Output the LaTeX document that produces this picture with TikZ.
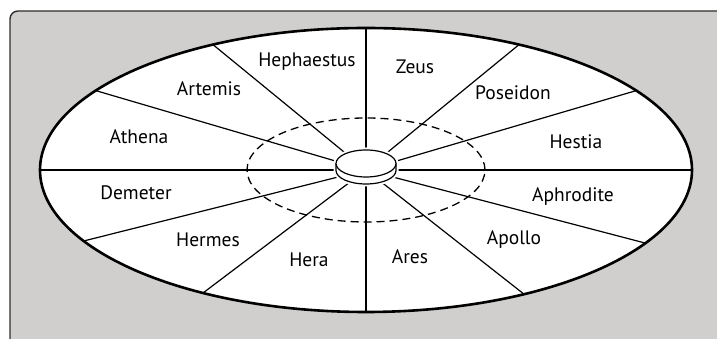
\documentclass[tikz,border=0pt]{standalone}
\usepackage{fontspec}
\setmainfont{PT Sans}
\usetikzlibrary{positioning}
\definecolor{panelgray}{HTML}{D1CFCD}
\definecolor{paneledge}{HTML}{2E2E2E}
\tikzset{
  spoke/.style={line width=1.2pt},
  halo/.style={draw=white,fill=white,line width=5pt},
  godlabel/.style={font=\fontsize{19.5}{21}\selectfont,inner sep=0pt}
}

\begin{document}
\begin{tikzpicture}[x=1pt,y=1pt,every node/.style={godlabel}]
\useasboundingbox (0,0) rectangle (717,339);
\draw[fill=panelgray,draw=paneledge,line width=1.4pt,rounded corners=8pt] (10,-20) rectangle (740,328);
\coordinate (c) at (366,169);
\fill[white] (c) ellipse [x radius=326, y radius=142];
\draw[dashed,line width=1.3pt,dash pattern=on 8pt off 5pt] (c) ellipse [x radius=119, y radius=52];
\path (c) ++(0:326 and 142) coordinate (s0);
\path (c) ++(34:326 and 142) coordinate (s1);
\path (c) ++(62:326 and 142) coordinate (s2);
\path (c) ++(90:326 and 142) coordinate (s3);
\path (c) ++(118:326 and 142) coordinate (s4);
\path (c) ++(146:326 and 142) coordinate (s5);
\path (c) ++(180:326 and 142) coordinate (s6);
\path (c) ++(210:326 and 142) coordinate (s7);
\path (c) ++(240:326 and 142) coordinate (s8);
\path (c) ++(270:326 and 142) coordinate (s9);
\path (c) ++(299:326 and 142) coordinate (s10);
\path (c) ++(329:326 and 142) coordinate (s11);
\draw[spoke] (c)--(s0);\draw[spoke] (c)--(s1);\draw[spoke] (c)--(s2);
\draw[spoke] (c)--(s3);\draw[spoke] (c)--(s4);\draw[spoke] (c)--(s5);
\draw[spoke] (c)--(s6);\draw[spoke] (c)--(s7);\draw[spoke] (c)--(s8);
\draw[spoke] (c)--(s9);\draw[spoke] (c)--(s10);\draw[spoke] (c)--(s11);
\draw[line width=2.6pt] (c) ellipse [x radius=326, y radius=142];
% hub
\coordinate (hub) at (366,175.5);
\path[halo] (336,175.5) -- (336,168.5) arc[start angle=180,end angle=360,x radius=30,y radius=13.5] -- (396,175.5) arc[start angle=0,end angle=180,x radius=30,y radius=13.5] -- cycle;
\draw[line width=1.2pt,fill=white] (336,175.5) -- (336,168.5) arc[start angle=180,end angle=360,x radius=30,y radius=13.5] -- (396,175.5);
\draw[line width=1.2pt,fill=white] (hub) ellipse [x radius=30, y radius=13.5];
% names
\node (hephaestus) at (307,277) {Hephaestus};
\node (zeus) at (415,272) {Zeus};
\node (poseidon) at (513,246) {Poseidon};
\node (hestia) at (576,197) {Hestia};
\node (aphrodite) at (573,142) {Aphrodite};
\node (apollo) at (514,99) {Apollo};
\node (ares) at (410,82) {Ares};
\node (hera) at (309,79) {Hera};
\node (hermes) at (208,99) {Hermes};
\node (demeter) at (136,146) {Demeter};
\node (athena) at (139,202) {Athena};
\node (artemis) at (209,250) {Artemis};
\end{tikzpicture}
\end{document}
